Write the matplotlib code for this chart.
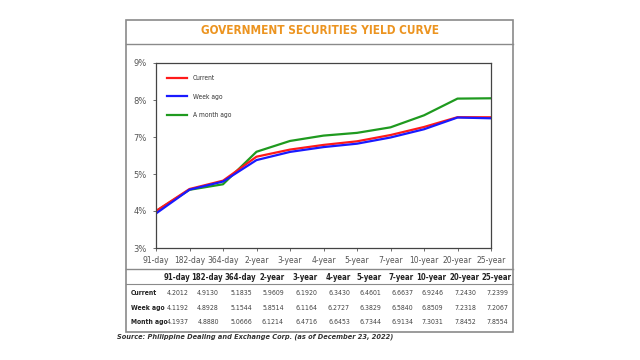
import numpy as np
import matplotlib.pyplot as plt
from matplotlib.patches import Rectangle
from matplotlib.lines import Line2D

# Data
tenors = ['91-day', '182-day', '364-day', '2-year', '3-year', '4-year',
          '5-year', '7-year', '10-year', '20-year', '25-year']
current = [4.2012, 4.9130, 5.1835, 5.9609, 6.1920, 6.3430, 6.4601, 6.6637, 6.9246, 7.2430, 7.2399]
week_ago = [4.1192, 4.8928, 5.1544, 5.8514, 6.1164, 6.2727, 6.3829, 6.5840, 6.8509, 7.2318, 7.2067]
month_ago = [4.1937, 4.8880, 5.0666, 6.1214, 6.4716, 6.6453, 6.7344, 6.9134, 7.3031, 7.8452, 7.8554]
row_names = ['Current', 'Week ago', 'Month ago']
legend_names = ['Current', 'Week ago', 'A month ago']
colors = ['#ff1a1a', '#1a1aff', '#1f9a1f']

W, H = 640, 360
cond = dict(family=['DejaVu Sans'], fontstretch='condensed')

def fx(px):
    return px / W

def fy(py):
    return 1 - py / H

fig = plt.figure(figsize=(6.4, 3.6), dpi=100)
fig.patch.set_facecolor('white')

# outer frame and table rules
fig.patches.append(Rectangle((fx(126), fy(332)), fx(513) - fx(126), fy(20) - fy(332),
                             transform=fig.transFigure, fill=False, ec='#8a8a8a', lw=1.2))
for y in [44, 269]:
    fig.lines.append(Line2D([fx(126), fx(513)], [fy(y), fy(y)], transform=fig.transFigure,
                            color='#8a8a8a', lw=1.0))
fig.lines.append(Line2D([fx(126), fx(513)], [fy(284), fy(284)], transform=fig.transFigure,
                        color='#8a8a8a', lw=0.8))

fig.text(0.5, fy(31), 'GOVERNMENT SECURITIES YIELD CURVE', ha='center', va='center',
         color='#ec9420', fontsize=8.5, fontweight='bold', **cond)

# plot area
ax = fig.add_axes([fx(156), fy(248), fx(491) - fx(156), fy(63) - fy(248)])
x = np.arange(len(tenors))
ax.plot(x, month_ago, color=colors[2], lw=1.6)
ax.plot(x, current, color=colors[0], lw=1.6)
ax.plot(x, week_ago, color=colors[1], lw=1.6)

ax.set_xlim(0, len(tenors) - 1)
ax.set_ylim(3, 9)
yt = np.linspace(3, 9, 6)
ax.set_yticks(yt)
ax.set_yticklabels(['{:.0f}%'.format(v) for v in yt])
ax.set_xticks(x)
ax.set_xticklabels(tenors)
ax.tick_params(axis='both', labelsize=5.5, colors='#555555', length=2.5, width=0.6, pad=3)
ax.tick_params(axis='y', pad=4, labelsize=6)
for s in ax.spines.values():
    s.set_color('#444444')
    s.set_linewidth(0.9)

handles = [Line2D([], [], color=c, lw=1.6) for c in colors]
leg = ax.legend(handles, legend_names, loc='upper left', bbox_to_anchor=(0.015, 0.965),
                frameon=False, handlelength=3.0, labelspacing=1.85, handletextpad=0.9,
                prop={'family': 'DejaVu Sans', 'stretch': 'condensed', 'size': 4.8})
for t in leg.get_texts():
    t.set_color('#333333')

# table
col_x = [177, 207, 240, 272, 305, 338, 369, 401, 431, 464, 496]
for cx, t in zip(col_x, tenors):
    fig.text(fx(cx), fy(277), t, ha='center', va='center', fontsize=5.6, fontweight='bold',
             color='#222222', **cond)
row_y = [293, 308, 322]
for ry, name, vals in zip(row_y, row_names, [current, week_ago, month_ago]):
    fig.text(fx(131), fy(ry), name, ha='left', va='center', fontsize=4.9, fontweight='bold',
             color='#222222', **cond)
    for cx, v in zip(col_x, vals):
        fig.text(fx(cx + 1), fy(ry), '{:.4f}'.format(v), ha='center', va='center', fontsize=5.0,
                 color='#444444', **cond)

fig.text(fx(117), fy(337), 'Source: Philippine Dealing and Exchange Corp. (as of December 23, 2022)',
         ha='left', va='center', fontsize=4.8, fontweight='bold', style='italic',
         family=['DejaVu Sans'], color='#333333')

fig.savefig('out.png', dpi=100)
